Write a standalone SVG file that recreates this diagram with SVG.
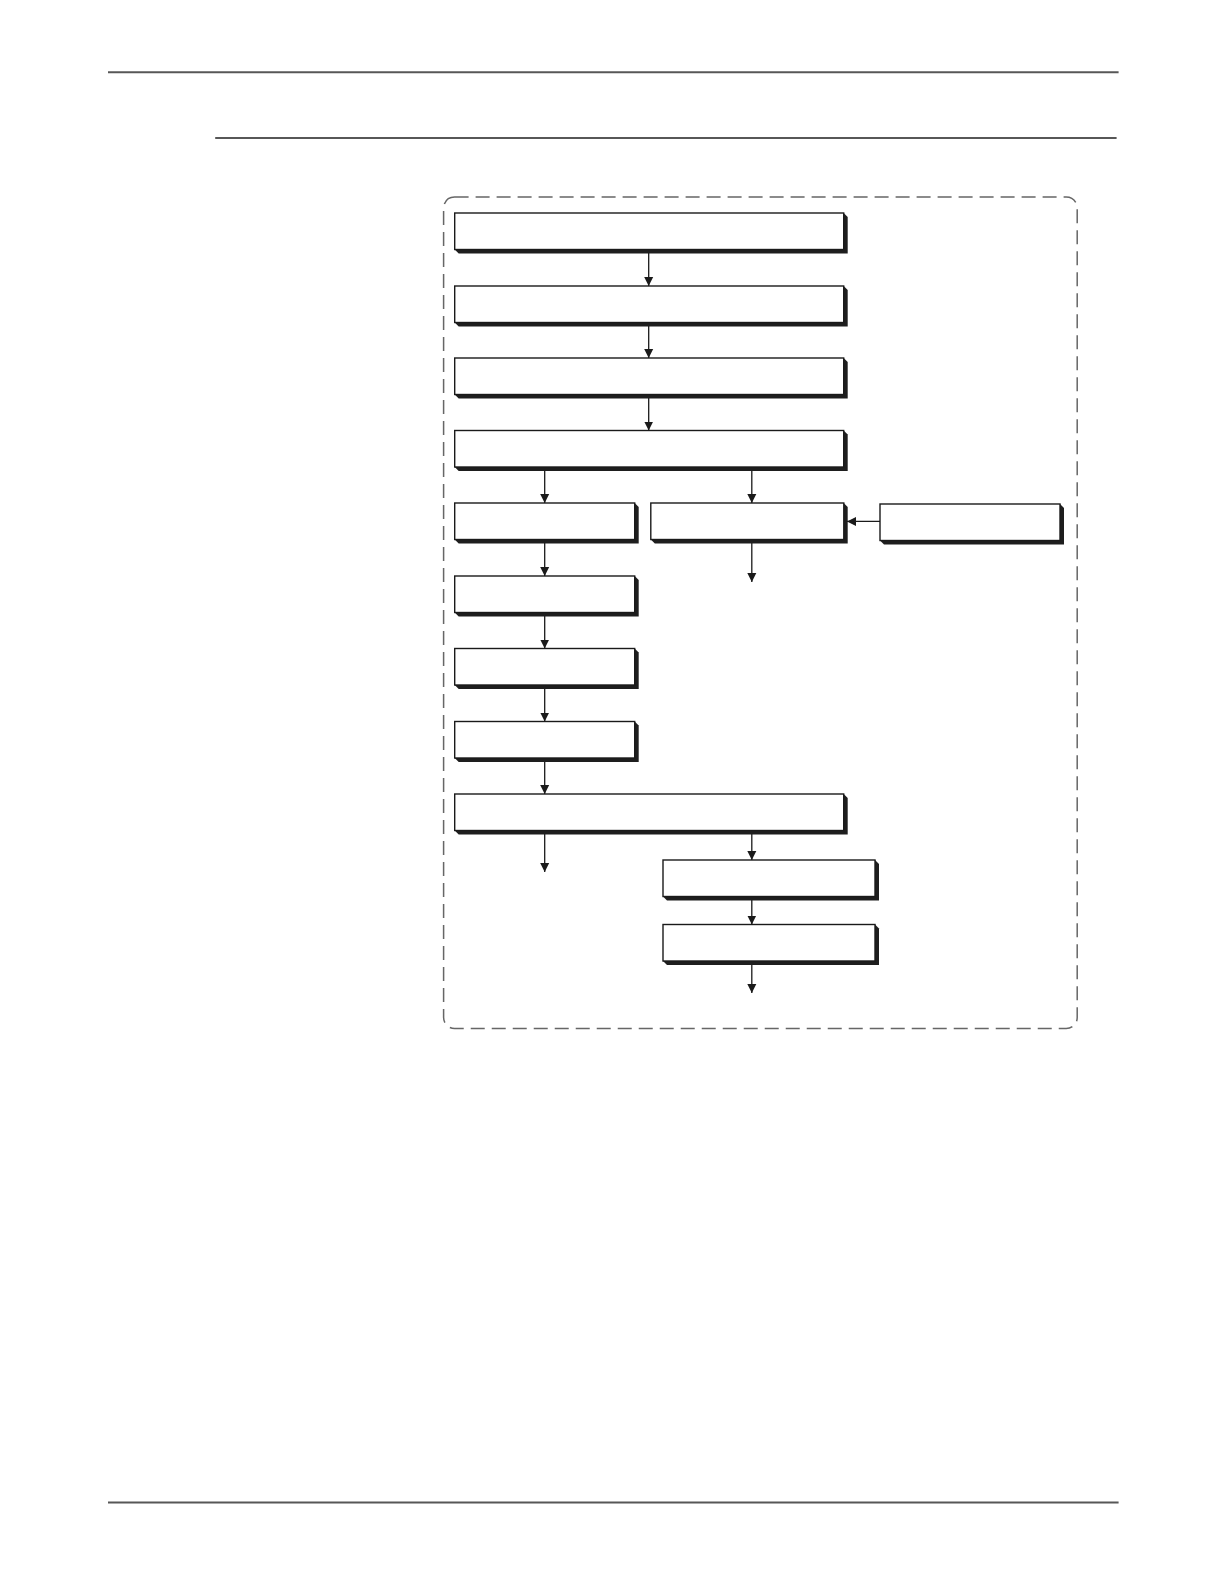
<svg xmlns="http://www.w3.org/2000/svg" width="1224" height="1584" viewBox="0 0 1224 1584">
<style>
.rule{stroke:#575757;stroke-width:2;fill:none}
.frame{stroke:#666;stroke-width:1.5;fill:none;stroke-dasharray:14 7}
.box{fill:#fff;stroke:#1a1a1a;stroke-width:1.4}
.sh{fill:#1e1e1e}
.con{stroke:#1a1a1a;stroke-width:1.3;fill:none}
</style>
<defs>
<marker id="ah" viewBox="0 0 10 10" refX="10" refY="5" markerWidth="9" markerHeight="10" markerUnits="userSpaceOnUse" orient="auto">
<path d="M0,0 L10,5 L0,10 Z" fill="#1a1a1a"/>
</marker>
</defs>
<rect width="1224" height="1584" fill="#fff"/>
<line class="rule" x1="108" y1="72.3" x2="1118.6" y2="72.3"/>
<line class="rule" x1="215.2" y1="138" x2="1116.6" y2="138"/>
<line class="rule" x1="108" y1="1502.6" x2="1118.6" y2="1502.6"/>
<rect class="frame" x="443.6" y="197" width="633.6" height="831.6" rx="11"/>

<g id="connectors">
<line class="con" x1="648.7" y1="250" x2="648.7" y2="286" marker-end="url(#ah)"/>
<line class="con" x1="648.7" y1="323" x2="648.7" y2="358" marker-end="url(#ah)"/>
<line class="con" x1="648.7" y1="395" x2="648.7" y2="430.5" marker-end="url(#ah)"/>
<line class="con" x1="544.7" y1="467.5" x2="544.7" y2="503" marker-end="url(#ah)"/>
<line class="con" x1="751.8" y1="467.5" x2="751.8" y2="503" marker-end="url(#ah)"/>
<line class="con" x1="880" y1="521.4" x2="847" y2="521.4" marker-end="url(#ah)"/>
<line class="con" x1="751.8" y1="540" x2="751.8" y2="582" marker-end="url(#ah)"/>
<line class="con" x1="544.7" y1="540" x2="544.7" y2="576" marker-end="url(#ah)"/>
<line class="con" x1="544.7" y1="613" x2="544.7" y2="648.5" marker-end="url(#ah)"/>
<line class="con" x1="544.7" y1="685.5" x2="544.7" y2="721.5" marker-end="url(#ah)"/>
<line class="con" x1="544.7" y1="758.5" x2="544.7" y2="794" marker-end="url(#ah)"/>
<line class="con" x1="544.7" y1="831" x2="544.7" y2="872" marker-end="url(#ah)"/>
<line class="con" x1="751.8" y1="831" x2="751.8" y2="860" marker-end="url(#ah)"/>
<line class="con" x1="751.8" y1="897" x2="751.8" y2="924.5" marker-end="url(#ah)"/>
<line class="con" x1="751.8" y1="961.5" x2="751.8" y2="993" marker-end="url(#ah)"/>
</g>

<g id="n1"><path class="sh" d="M843.7,213 L847.7,217 L847.7,253.5 L458.7,253.5 L454.7,249.5 Z"/><rect class="box" x="454.7" y="213" width="389" height="36.5"/></g>
<g id="n2"><path class="sh" d="M843.7,286 L847.7,290 L847.7,326.5 L458.7,326.5 L454.7,322.5 Z"/><rect class="box" x="454.7" y="286" width="389" height="36.5"/></g>
<g id="n3"><path class="sh" d="M843.7,358 L847.7,362 L847.7,398.5 L458.7,398.5 L454.7,394.5 Z"/><rect class="box" x="454.7" y="358" width="389" height="36.5"/></g>
<g id="n4"><path class="sh" d="M843.7,430.5 L847.7,434.5 L847.7,471 L458.7,471 L454.7,467 Z"/><rect class="box" x="454.7" y="430.5" width="389" height="36.5"/></g>
<g id="n5"><path class="sh" d="M634.7,503 L638.7,507 L638.7,543.5 L458.7,543.5 L454.7,539.5 Z"/><rect class="box" x="454.7" y="503" width="180" height="36.5"/></g>
<g id="n6"><path class="sh" d="M843.7,503 L847.7,507 L847.7,543.5 L654.8,543.5 L650.8,539.5 Z"/><rect class="box" x="650.8" y="503" width="193" height="36.5"/></g>
<g id="n7"><path class="sh" d="M1060,504 L1064,508 L1064,544.5 L884,544.5 L880,540.5 Z"/><rect class="box" x="880" y="504" width="180" height="36.5"/></g>
<g id="n8"><path class="sh" d="M634.7,576 L638.7,580 L638.7,616.5 L458.7,616.5 L454.7,612.5 Z"/><rect class="box" x="454.7" y="576" width="180" height="36.5"/></g>
<g id="n9"><path class="sh" d="M634.7,648.5 L638.7,652.5 L638.7,689 L458.7,689 L454.7,685 Z"/><rect class="box" x="454.7" y="648.5" width="180" height="36.5"/></g>
<g id="n10"><path class="sh" d="M634.7,721.5 L638.7,725.5 L638.7,762 L458.7,762 L454.7,758 Z"/><rect class="box" x="454.7" y="721.5" width="180" height="36.5"/></g>
<g id="n11"><path class="sh" d="M843.7,794 L847.7,798 L847.7,834.5 L458.7,834.5 L454.7,830.5 Z"/><rect class="box" x="454.7" y="794" width="389" height="36.5"/></g>
<g id="n12"><path class="sh" d="M875,860 L879,864 L879,900.5 L667,900.5 L663,896.5 Z"/><rect class="box" x="663" y="860" width="212" height="36.5"/></g>
<g id="n13"><path class="sh" d="M875,924.5 L879,928.5 L879,965 L667,965 L663,961 Z"/><rect class="box" x="663" y="924.5" width="212" height="36.5"/></g>
</svg>
